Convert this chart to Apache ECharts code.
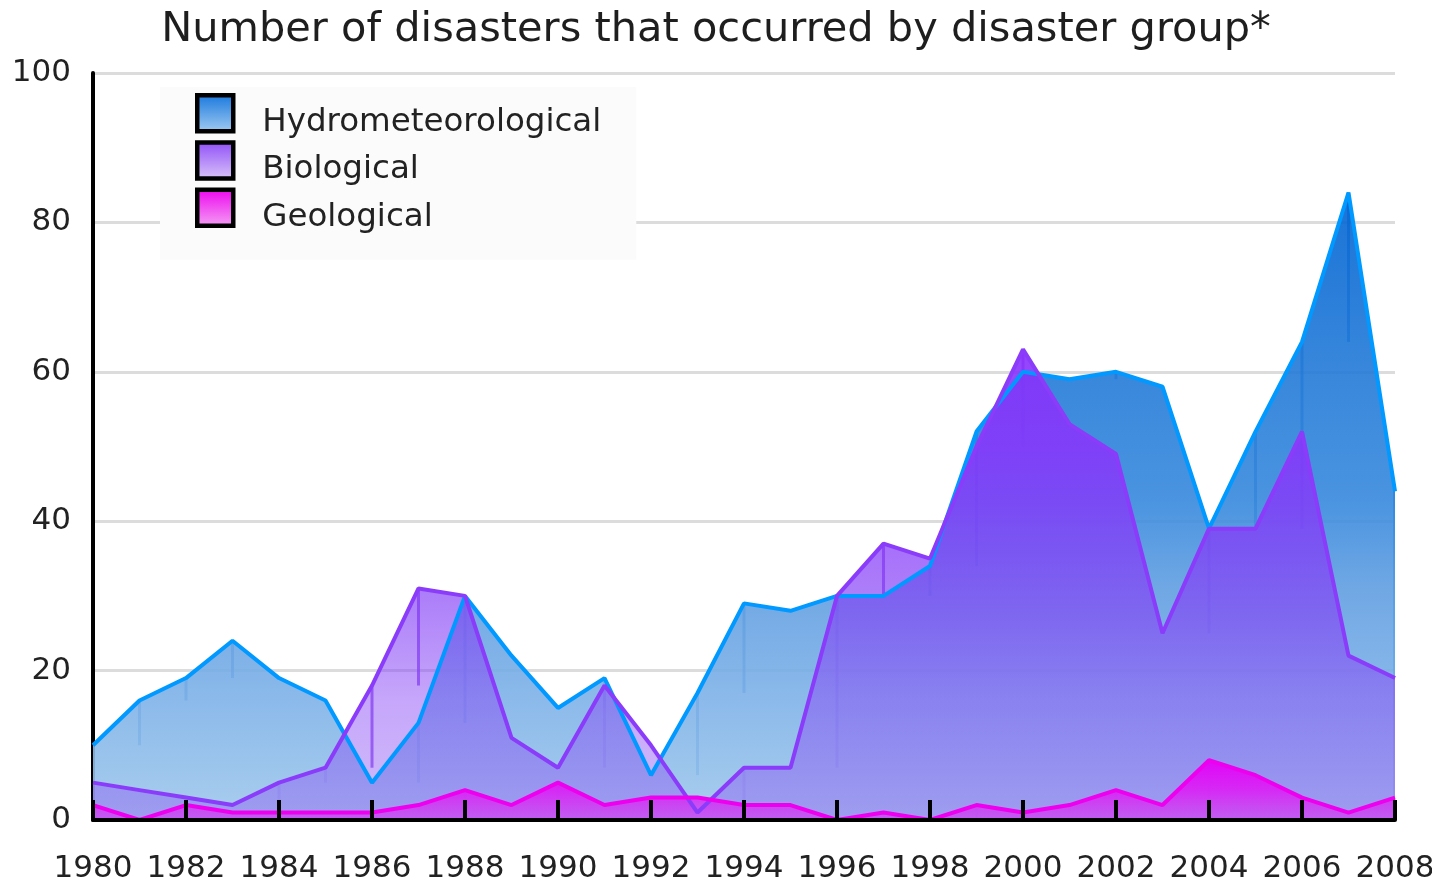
<!DOCTYPE html>
<html><head><meta charset="utf-8">
<script src="https://cdn.jsdelivr.net/npm/echarts@6/dist/echarts.min.js"></script>
<style>html,body{margin:0;padding:0;background:#fff;overflow:hidden}#c{width:1432px;height:881px}</style>
</head><body><div id="c"></div>
<script>
// ---- data ----
const years = ['1980','1981','1982','1983','1984','1985','1986','1987','1988','1989','1990','1991','1992','1993','1994','1995','1996','1997','1998','1999','2000','2001','2002','2003','2004','2005','2006','2007','2008'];
const hydro = [10,16,19,24,19,16,5,13,30,22,15,19,6,17,29,28,30,30,34,52,60,59,60,58,39,52,64,84,44];
const bio   = [5,4,3,2,5,7,18,31,30,11,7,18,10,1,7,7,30,37,35,50,63,53,49,25,39,39,52,22,19];
const geo   = [2,0,2,1,1,1,1,2,4,2,5,2,3,3,2,2,0,1,0,2,1,2,4,2,8,6,3,1,3];
const seriesNames = ['Hydrometeorological','Biological','Geological'];
const titleText = 'Number of disasters that occurred by disaster group*';
const yMin = 0, yMax = 100, yStep = 20;

const FONT = '"DejaVu Sans", Verdana, sans-serif';

function grad(stops){
  return {type:'linear', x:0, y:0, x2:0, y2:1,
    colorStops: stops.map(s => ({offset:s[0], color:s[1]}))};
}
function gradGlobal(yTop, yBottom, stops){
  return {type:'linear', x:0, y:yTop, x2:0, y2:yBottom, global:true,
    colorStops: stops.map(s => ({offset:s[0], color:s[1]}))};
}

// vertical segments at rising points (previous value -> current value), plus closing edge
function drops(vals){
  const out = [];
  for (let i = 1; i < vals.length; i++) {
    if (vals[i] > vals[i-1]) out.push([i, vals[i-1], vals[i], 0]);
  }
  out.push([vals.length-1, vals[vals.length-1], 0, 1]);
  return out;
}

function dropSeries(name, vals, dropColor, edgeColor){
  return {
    type:'custom', name: name + ' drops', data: drops(vals),
    encode:{x:0, y:[1,2]}, silent:true, clip:true,
    renderItem(params, api){
      const x = api.value(0);
      const p1 = api.coord([x, api.value(1)]);
      const p2 = api.coord([x, api.value(2)]);
      const edge = api.value(3) === 1;
      return {type:'line', shape:{x1:p1[0], y1:p1[1], x2:p2[0], y2:p2[1]},
        style:{stroke: edge ? edgeColor : dropColor, lineWidth: edge ? 4 : 3}};
    }
  };
}

const chart = echarts.init(document.getElementById('c'), null, {renderer:'canvas'});
chart.setOption({
  animation:false,
  backgroundColor:'#ffffff',
  title:{text:titleText, left:'center', top:4,
    textStyle:{fontFamily:FONT, fontSize:41.5, fontWeight:'normal', color:'#1e1e1e'}},
  legend:{
    data:[
      {name:seriesNames[0], icon:'rect', itemStyle:{color:grad([[0,'#1476dc'],[1,'#a6cdf2']]), borderColor:'#000', borderWidth:4.5}},
      {name:seriesNames[1], icon:'rect', itemStyle:{color:grad([[0,'#8e4cf8'],[1,'#dcc8f8']]), borderColor:'#000', borderWidth:4.5}},
      {name:seriesNames[2], icon:'rect', itemStyle:{color:grad([[0,'#ee00ee'],[1,'#f4a4f4']]), borderColor:'#000', borderWidth:4.5}}
    ],
    orient:'vertical', left:160, top:87, itemWidth:36, itemHeight:36, itemGap:1,
    padding:[6,35,26,35], backgroundColor:'#fbfbfb', selectedMode:false,
    formatter: name => '{s| }{t|' + name + '}',
    textStyle:{
      fontFamily:FONT, fontSize:32.5, color:'#222',
      rich:{
        s:{width:24, height:52, fontSize:32.5, fontFamily:FONT},
        t:{fontFamily:FONT, fontSize:32.5, color:'#222', lineHeight:36, verticalAlign:'bottom'}
      }
    }
  },
  grid:{left:93, right:37, top:73, bottom:61, containLabel:false, outerBoundsMode:'none'},
  xAxis:{
    type:'category', data:years, boundaryGap:false, z:10,
    axisLine:{lineStyle:{color:'#000', width:4}},
    axisTick:{show:true, inside:true, length:20, interval:1, lineStyle:{color:'#000', width:4}},
    axisLabel:{interval:1, fontFamily:FONT, fontSize:31, color:'#222', margin:33},
    splitLine:{show:false}
  },
  yAxis:{
    type:'value', min:yMin, max:yMax, interval:yStep,
    axisLine:{show:true, lineStyle:{color:'#000', width:4}},
    axisTick:{show:false},
    axisLabel:{fontFamily:FONT, fontSize:31, color:'#222', margin:22},
    splitLine:{show:true, lineStyle:{color:'#dcdcdc', width:3}}
  },
  series:[
    {name:seriesNames[0], type:'line', data:hydro, symbol:'none', smooth:false,
      lineStyle:{color:'#0099ff', width:4}, itemStyle:{color:'#0099ff'}, areaStyle:{color:'rgba(60,140,220,0.9)', opacity:1}},
    dropSeries(seriesNames[0], hydro, 'rgba(20,110,210,0.75)', '#0099ff'),
    {name:seriesNames[1], type:'line', data:bio, symbol:'none', smooth:false,
      lineStyle:{color:'#8a3cfa', width:4}, itemStyle:{color:'#8a3cfa'}, areaStyle:{color:'rgba(138,60,248,0.6)', opacity:1}},
    dropSeries(seriesNames[1], bio, 'rgba(140,70,240,0.8)', '#8a3cfa'),
    {name:seriesNames[2], type:'line', data:geo, symbol:'none', smooth:false,
      lineStyle:{color:'#ee00ee', width:4}, itemStyle:{color:'#ee00ee'}, areaStyle:{color:'rgba(220,30,245,0.9)', opacity:1}},
    dropSeries(seriesNames[2], geo, 'rgba(220,40,240,0.8)', '#ee00ee')
  ]
});

// gradients anchored on each series' own peak, using the library's y scale
const yPix = v => chart.convertToPixel({yAxisIndex:0}, v);
const base = yPix(0);
const hydroFill = gradGlobal(yPix(Math.max(...hydro)), base, [
  [0,'rgba(0,100,210,0.9)'],[0.30,'rgba(36,123,216,0.9)'],[0.49,'rgba(54,136,221,0.9)'],
  [0.63,'rgba(96,158,225,0.9)'],[0.81,'rgba(127,178,232,0.9)'],[1,'rgba(160,201,236,0.9)']]);
const bioFill = gradGlobal(yPix(Math.max(...bio)), base, [
  [0,'rgba(136,48,252,0.9)'],[0.21,'rgba(138,50,252,0.85)'],[0.53,'rgba(131,62,246,0.66)'],
  [0.745,'rgba(136,70,246,0.48)'],[1,'rgba(142,90,242,0.42)']]);
const geoFill = gradGlobal(yPix(Math.max(...geo)), base, [
  [0,'rgba(228,0,248,0.97)'],[0.5,'rgba(220,30,245,0.9)'],[1,'rgba(200,80,240,0.8)']]);
chart.setOption({series:[
  {areaStyle:{color:hydroFill, opacity:1}}, {}, {areaStyle:{color:bioFill, opacity:1}}, {}, {areaStyle:{color:geoFill, opacity:1}}, {}
]});
</script></body></html>
